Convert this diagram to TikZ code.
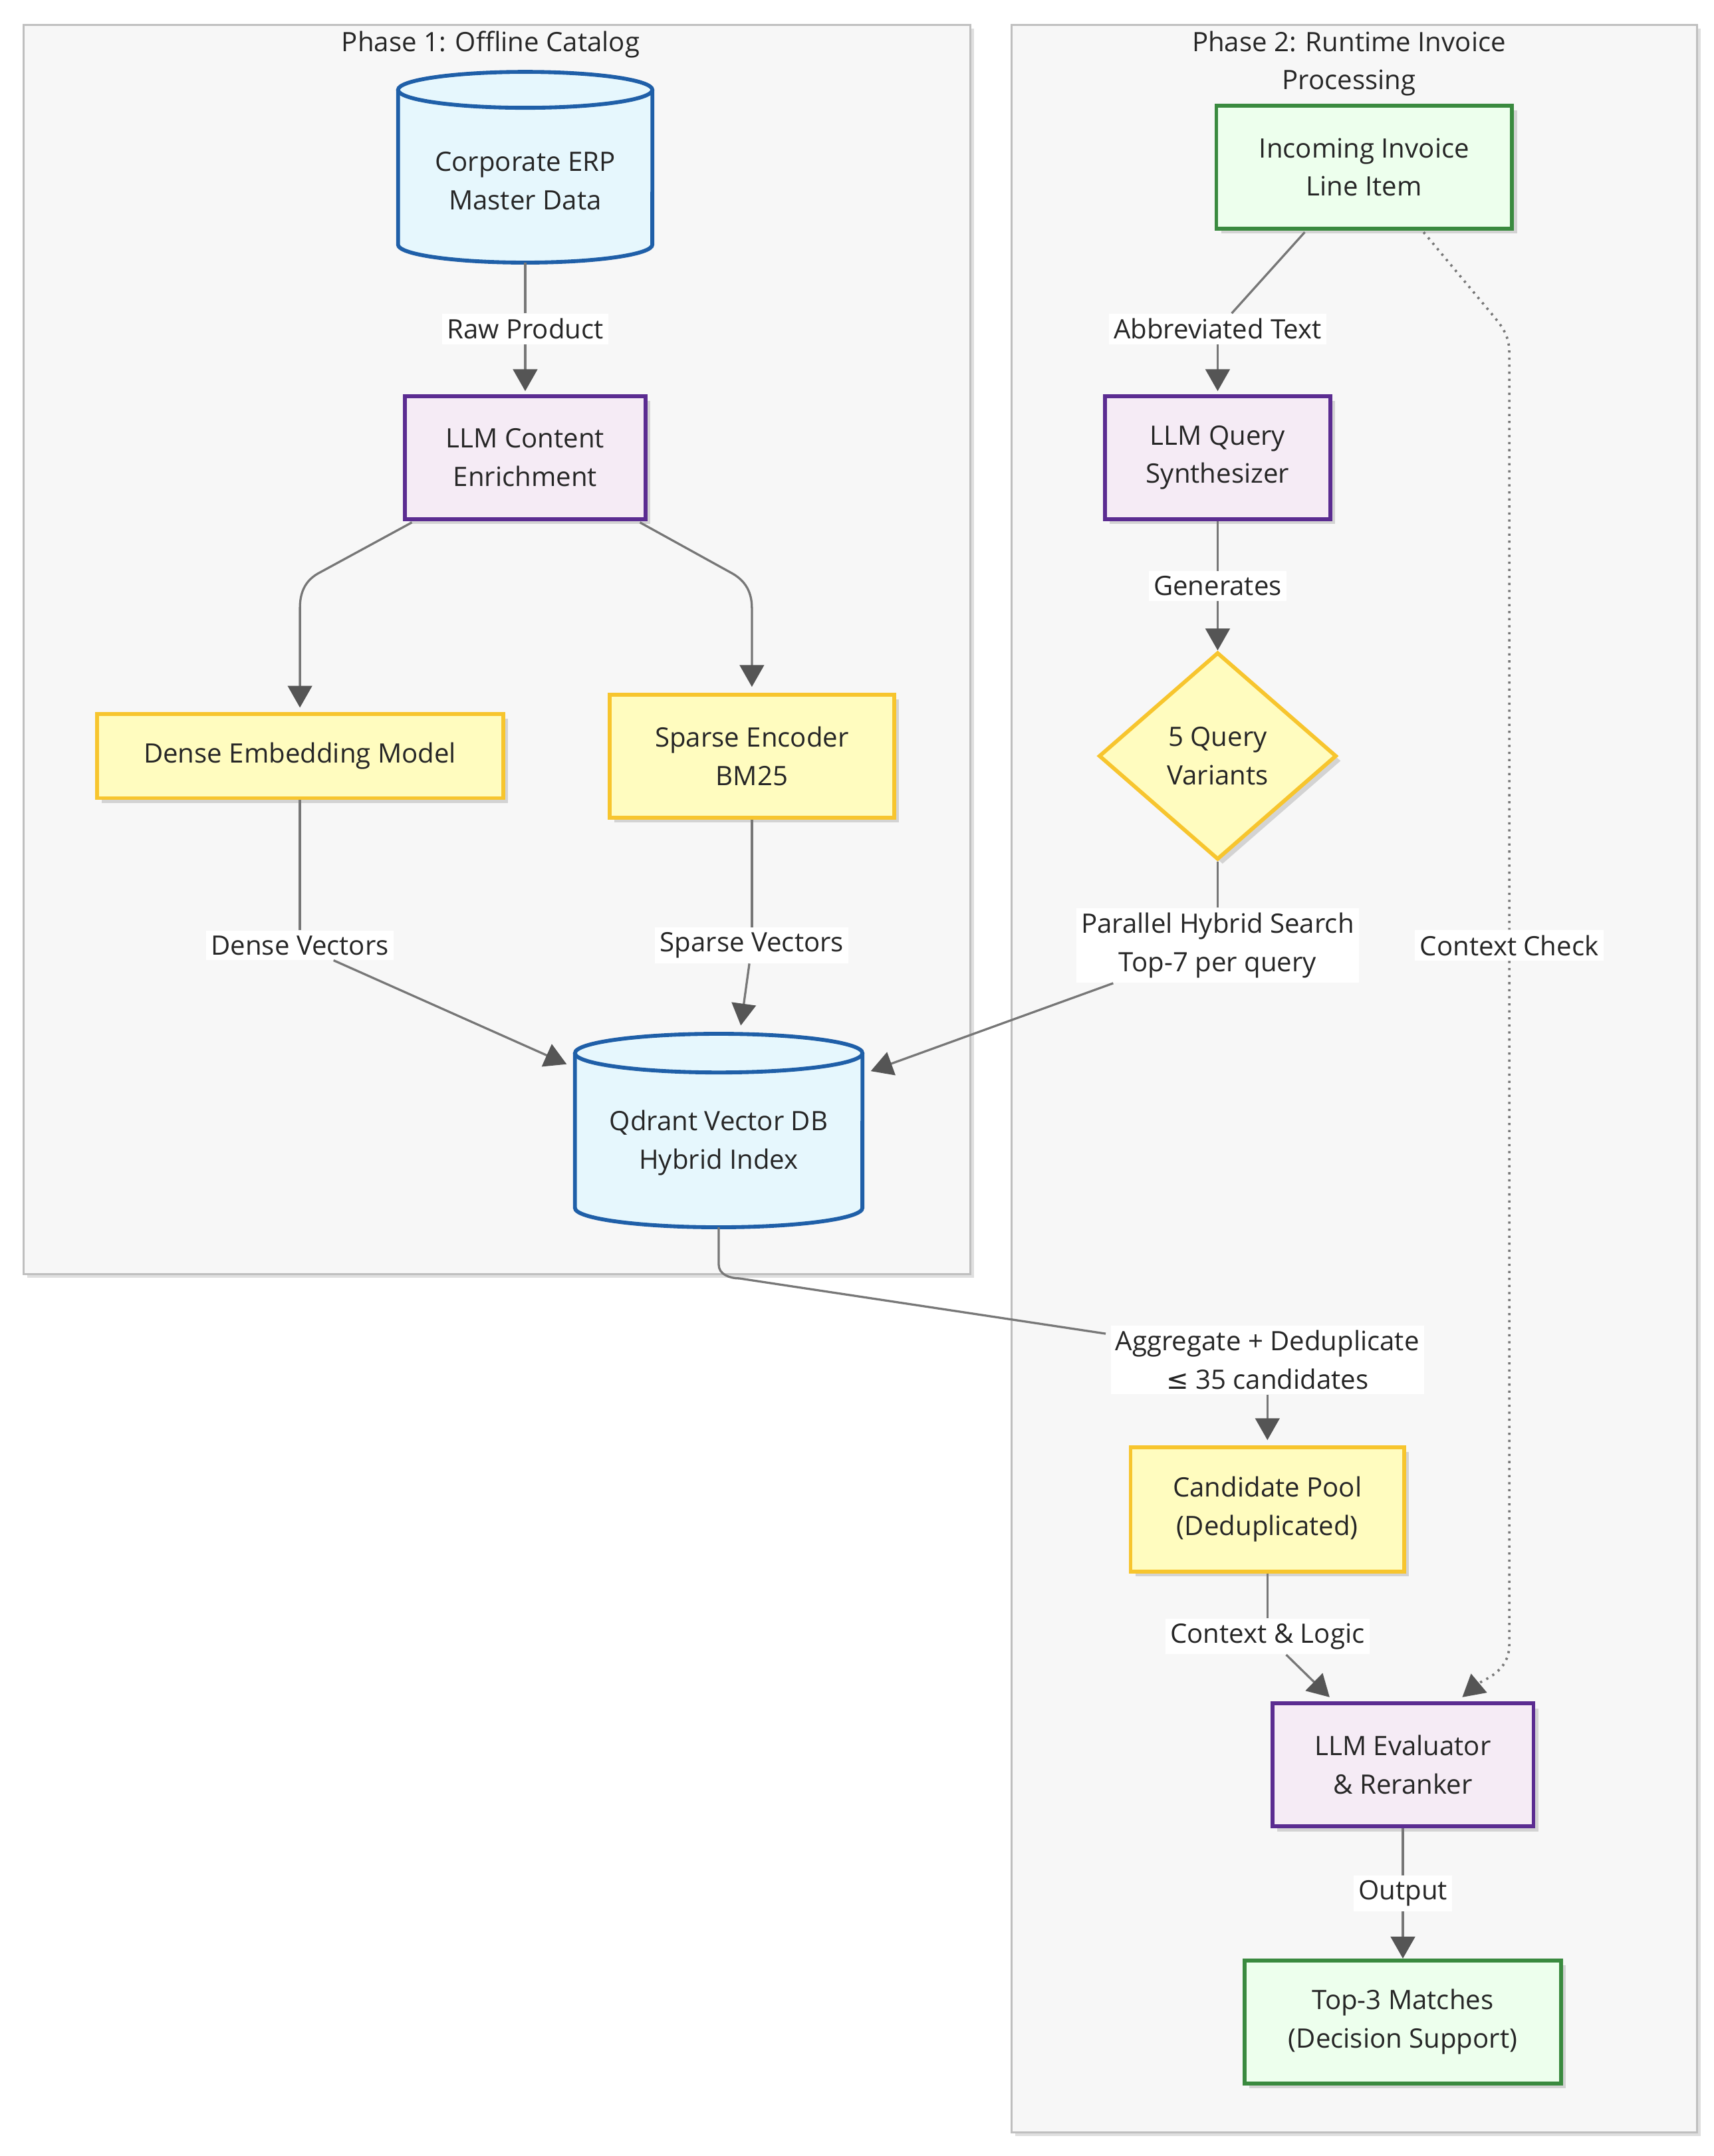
\documentclass[tikz,border=0pt]{standalone}
\usepackage{fontspec}
\setmainfont{Open Sans}
\newfontfamily\dv{DejaVu Sans}
\usetikzlibrary{shapes.geometric,shadows,arrows.meta}
\definecolor{ln}{HTML}{777777}
\definecolor{ar}{HTML}{555555}
\definecolor{cylb}{HTML}{1F5FA8}
\definecolor{purb}{HTML}{5B2C91}
\definecolor{grnb}{HTML}{3A8A3F}
\definecolor{yelb}{HTML}{F7C52E}
\begin{document}
\begin{tikzpicture}[x=0.02cm,y=-0.02cm,
  every node/.style={font=\fontsize{11}{15.8}\selectfont, align=center, text=black!85},
  phase/.style={draw=black!25, fill=black!3, line width=0.8pt, drop shadow={opacity=0.25,shadow xshift=1.5pt,shadow yshift=-1.5pt}},
  box/.style={draw, line width=1.6pt, inner sep=0pt, drop shadow={opacity=0.3,shadow xshift=2pt,shadow yshift=-2pt}},
  purple/.style={box, fill=violet!8, draw=purb},
  yellow/.style={box, fill=yellow!25, draw=yelb},
  green/.style={box, fill=green!7, draw=grnb},
  cylbox/.style={inner sep=0pt},
  cyl/.style={draw=cylb, fill=cyan!10, line width=1.6pt},
  lab/.style={fill=white, inner sep=2pt},
  ed/.style={draw=ln, line width=0.9pt},
  arr/.style={ed, arrows={-{Triangle[length=9pt,width=10pt,color=ar]}}}
]
\useasboundingbox (0,0) rectangle (1240,1560);
% phases
\draw[phase] (17,18) rectangle (702,922);
\draw[phase] (732,18) rectangle (1228,1543);
\node (t1) at (355,32) {Phase 1: Offline Catalog};
\node (t2) at (976,46) {Phase 2: Runtime Invoice\\Processing};
% cylinders
\draw[cyl] (288,65) -- (288,177) arc[start angle=180,end angle=360,x radius=1.84cm,y radius=0.26cm] -- (472,65);
\draw[cyl] (380,65) ellipse[x radius=1.84cm,y radius=0.26cm];
\node[cylbox] (erp) at (380,130) [minimum width=3.68cm,minimum height=2.76cm] {};
\node at (380,131) {Corporate ERP\\Master Data};
\draw[cyl] (416,762) -- (416,874) arc[start angle=180,end angle=360,x radius=2.08cm,y radius=0.28cm] -- (624,762);
\draw[cyl] (520,762) ellipse[x radius=2.08cm,y radius=0.28cm];
\node[cylbox] (qd) at (520,817) [minimum width=4.16cm,minimum height=2.82cm] {};
\node at (520,827) {Qdrant Vector DB\\Hybrid Index};
% boxes
\node[purple, minimum width=3.48cm, minimum height=1.78cm] (llm1) at (380,331) {LLM Content\\Enrichment};
\node[yellow, minimum width=5.88cm, minimum height=1.22cm] (dense) at (217,547) {Dense Embedding Model};
\node[yellow, minimum width=4.12cm, minimum height=1.78cm] (sparse) at (544,547) {Sparse Encoder\\BM25};
\node[green, minimum width=4.28cm, minimum height=1.78cm] (inv) at (987,121) {Incoming Invoice\\Line Item};
\node[purple, minimum width=3.26cm, minimum height=1.78cm] (llmq) at (881,331) {LLM Query\\Synthesizer};
\node[diamond, box, fill=yellow!25, draw=yelb, minimum width=3.44cm, minimum height=3.0cm] (dia) at (881,547) {};
\node at (881,547) {5 Query\\Variants};
\node[yellow, minimum width=3.96cm, minimum height=1.8cm] (pool) at (917,1092) {Candidate Pool\\(Deduplicated)};
\node[purple, minimum width=3.78cm, minimum height=1.78cm] (ev) at (1015,1277) {LLM Evaluator\\\& Reranker};
\node[green, minimum width=4.58cm, minimum height=1.78cm] (top) at (1015,1463) {Top-3 Matches\\(Decision Support)};
% labels
\node[lab] (lraw) at (380,238) {Raw Product};
\node[lab] (ldv) at (217,684) {Dense Vectors};
\node[lab] (lsv) at (544,684) {Sparse Vectors};
\node[lab] (lab) at (881,238) {Abbreviated Text};
\node[lab] (lgen) at (881,424) {Generates};
\node[lab] (lph) at (881,684) {Parallel Hybrid Search\\Top-7 per query};
\node[lab] (lcc) at (1092,684) {Context Check};
\node[lab] (lagg) at (917,984) {Aggregate + Deduplicate\\{\dv ≤} 35 candidates};
\node[lab] (lcl) at (917,1184) {Context \& Logic};
\node[lab] (lout) at (1015,1370) {Output};
\coordinate (a1) at (380,190); \coordinate (a2) at (380,283);
% edges
\draw[ed] (a1) -- (lraw);
\draw[arr] (lraw) -- (a2);
\draw[arr] (298,378) -- (230,415) to[out=-150,in=90] (217,440) -- (217,512);
\draw[arr] (463,378) -- (530,415) to[out=-30,in=90] (544,440) -- (544,497);
\draw[ed] (dense.south) -- (ldv);
\draw[arr] (ldv) -- (410,770);
\draw[ed] (sparse.south) -- (lsv);
\draw[arr] (lsv) -- (536,742);
\draw[ed] (944,168) -- (lab);
\draw[arr] (lab) -- (881,283);
\draw[ed] (llmq) -- (lgen);
\draw[arr] (lgen) -- (dia.north);
\draw[ed] (dia.south) -- (lph);
\draw[arr] (lph) -- (630,775);
\draw[ed, dotted, line width=1pt] (1030,168) -- (1080,228) to[out=-50,in=90] (1092,255) -- (lcc);
\draw[arr, dotted, line width=1pt] (lcc) -- (1092,1190) to[out=-90,in=40] (1058,1228);
\draw[ed] (520,888) -- (520,915) to[out=-90,in=180] (535,925) -- (800,965);
\draw[arr] (lagg) -- (917,1042);
\draw[ed] (pool) -- (lcl);
\draw[arr] (lcl) -- (962,1228);
\draw[ed] (ev) -- (lout);
\draw[arr] (lout) -- (top);
\end{tikzpicture}
\end{document}
